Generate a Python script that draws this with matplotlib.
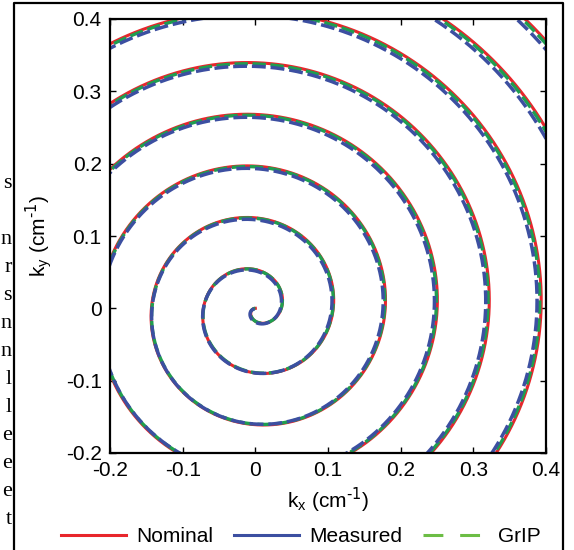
import matplotlib.pyplot as plt
import numpy as np
from matplotlib.lines import Line2D

plt.rcParams['font.family'] = ['Liberation Sans', 'DejaVu Sans']

# spiral: radius gained per revolution, start angle, max radius
turn_spacing = 0.0715
start_angle = np.pi
max_radius = 0.6

# trajectories: name, gain, x/y shift, colour, dash pattern
names = ['Nominal', 'GrIP', 'Measured']
gains = [1.0, 0.995, 0.988]
shifts_x = [0.0, 0.0, -0.001]
shifts_y = [0.0, 0.0, -0.001]
colors = ['#e8262c', '#1f9e4f', '#3c4fa1']
widths = [2.2, 2.4, 2.5]
styles = ['-', (2.4, (4.0, 1.4)), (0, (4.0, 1.4))]

legend_names = ['Nominal', 'Measured', 'GrIP']
legend_colors = ['#e8262c', '#3c4fa1', '#6cbd45']

ticks = [-0.2, -0.1, 0, 0.1, 0.2, 0.3, 0.4]
tick_labels = ['-0.2', '-0.1', '0', '0.1', '0.2', '0.3', '0.4']

# cut-off letters of the page text at the left edge
side_letters = ['s', '', 'n', 'r', 's', 'n', 'n', 'l', 'l', 'e', 'e', 'e', 't']

fig = plt.figure(figsize=(5.74, 5.5), dpi=100)
ax = fig.add_axes([110 / 574, 1 - 453 / 550, 436 / 574, 434 / 550])

c = turn_spacing / (2 * np.pi)
phi = np.linspace(0, max_radius / c, 30000)
r = c * phi
theta = phi + start_angle
for g, sx, sy, col, lw, ls in zip(gains, shifts_x, shifts_y, colors, widths, styles):
    kx = g * r * np.cos(theta) + sx
    ky = g * r * np.sin(theta) + sy
    ax.plot(kx, ky, color=col, lw=lw, linestyle=ls)

ax.set_xlim(-0.2, 0.4)
ax.set_ylim(-0.2, 0.4)
ax.set_xticks(ticks)
ax.set_xticklabels(tick_labels)
ax.set_yticks(ticks)
ax.set_yticklabels(tick_labels)
ax.tick_params(direction='in', length=4, width=1, top=True, right=True,
               labelsize=15, pad=6)
for s in ax.spines.values():
    s.set_linewidth(1.6)
ax.set_xlabel(r'$\mathregular{k_x}$ (cm$^{\text{-1}}$)', fontsize=15, labelpad=4)
ax.set_ylabel(r'$\mathregular{k_y}$ (cm$^{\text{-1}}$)', fontsize=15, labelpad=8)

handles = [Line2D([], [], color=legend_colors[0], lw=2.2),
           Line2D([], [], color=legend_colors[1], lw=2.2),
           Line2D([], [], color=legend_colors[2], lw=2.2, dashes=(6.5, 5.5))]
fig.legend(handles, legend_names, loc='center', bbox_to_anchor=(301 / 574, 13 / 550),
           ncol=3, frameon=False, fontsize=15, handlelength=3.1,
           handletextpad=0.5, columnspacing=1.0, borderpad=0, borderaxespad=0)

# outer frame of the page figure
fig.add_artist(Line2D([14 / 574, 14 / 574, 563 / 574, 563 / 574],
                      [0, 1 - 3 / 550, 1 - 3 / 550, 0],
                      transform=fig.transFigure, color='black', lw=1.6))

for i, ch in enumerate(side_letters):
    fig.text(12 / 574, 1 - (184 + 28 * i) / 550, ch, ha='right', va='center',
             family='Liberation Serif', fontsize=16)

fig.savefig('out.png', dpi=100)
